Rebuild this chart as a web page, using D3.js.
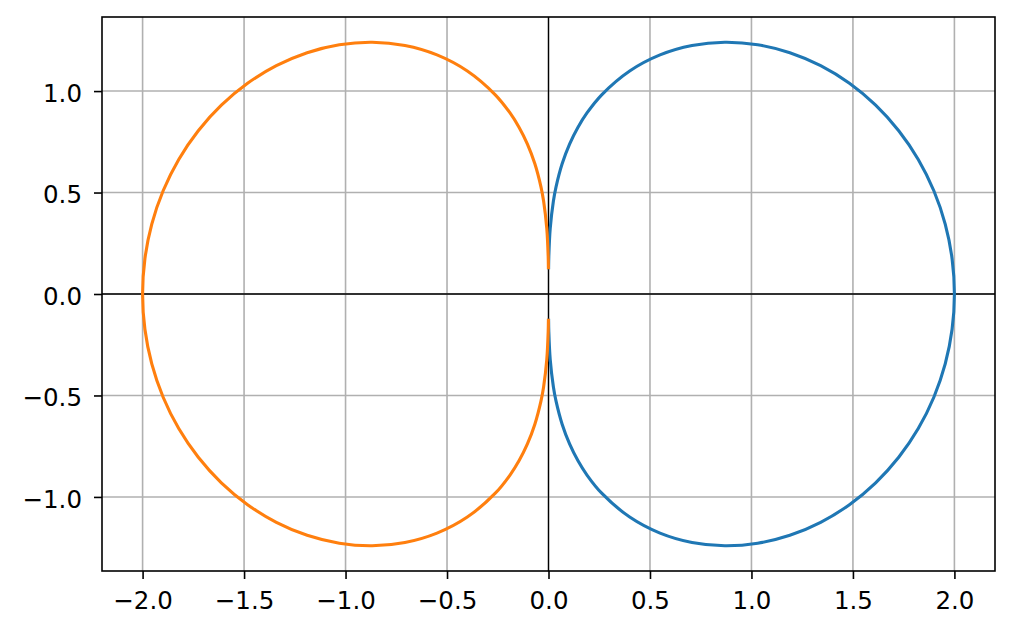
<!DOCTYPE html>
<html>
  <head>
    <meta charset="utf-8">
    <title>Polar curves</title>
    <script src="https://cdn.jsdelivr.net/npm/d3@7"></script>
    <style>
      body { margin: 0; background: #fff; }
      svg { font-family: "DejaVu Sans", sans-serif; }
      .grid line { stroke: #b0b0b0; stroke-width: 1.6px; }
    </style>
  </head>
  <body>
    <svg width="1014" height="636"></svg>
    <script>

    // points, upper half from the cusp round to (2, 0)
    const blueX = [0.0005, 0.0016, 0.0085, 0.0240, 0.0369, 0.0676, 0.1039, 0.1447, 0.1896, 0.2633, 0.4000, 0.5495, 0.7071, 0.8688, 1.0307, 1.1892, 1.3410, 1.4828, 1.6119, 1.7256, 1.8219, 1.8987, 1.9547, 1.9886, 2.0,
                   1.9886, 1.9547, 1.8987, 1.8219, 1.7256, 1.6119, 1.4828, 1.3410, 1.1892, 1.0307, 0.8688, 0.7071, 0.5495, 0.4000, 0.2633, 0.1896, 0.1447, 0.1039, 0.0676, 0.0369, 0.0240, 0.0085, 0.0016, 0.0005];
    const blueY = [0.1296, 0.1868, 0.3235, 0.4570, 0.5270, 0.6431, 0.7389, 0.8207, 0.8921, 0.9828, 1.0991, 1.1784, 1.2247, 1.2408, 1.2283, 1.1892, 1.1252, 1.0383, 0.9306, 0.8047, 0.6631, 0.5087, 0.3447, 0.1740, 0,
                   -0.1740, -0.3447, -0.5087, -0.6631, -0.8047, -0.9306, -1.0383, -1.1252, -1.1892, -1.2283, -1.2408, -1.2247, -1.1784, -1.0991, -0.9828, -0.8921, -0.8207, -0.7389, -0.6431, -0.5270, -0.4570, -0.3235, -0.1868, -0.1296];

    const orangeX = [-0.0005, -0.0016, -0.0085, -0.0240, -0.0369, -0.0676, -0.1039, -0.1447, -0.1896, -0.2633, -0.4000, -0.5495, -0.7071, -0.8688, -1.0307, -1.1892, -1.3410, -1.4828, -1.6119, -1.7256, -1.8219, -1.8987, -1.9547, -1.9886, -2.0,
                     -1.9886, -1.9547, -1.8987, -1.8219, -1.7256, -1.6119, -1.4828, -1.3410, -1.1892, -1.0307, -0.8688, -0.7071, -0.5495, -0.4000, -0.2633, -0.1896, -0.1447, -0.1039, -0.0676, -0.0369, -0.0240, -0.0085, -0.0016, -0.0005];
    const orangeY = [-0.1296, -0.1868, -0.3235, -0.4570, -0.5270, -0.6431, -0.7389, -0.8207, -0.8921, -0.9828, -1.0991, -1.1784, -1.2247, -1.2408, -1.2283, -1.1892, -1.1252, -1.0383, -0.9306, -0.8047, -0.6631, -0.5087, -0.3447, -0.1740, 0,
                     0.1740, 0.3447, 0.5087, 0.6631, 0.8047, 0.9306, 1.0383, 1.1252, 1.1892, 1.2283, 1.2408, 1.2247, 1.1784, 1.0991, 0.9828, 0.8921, 0.8207, 0.7389, 0.6431, 0.5270, 0.4570, 0.3235, 0.1868, 0.1296];

    const xTicks = [-2.0, -1.5, -1.0, -0.5, 0.0, 0.5, 1.0, 1.5, 2.0];
    const yTicks = [-1.0, -0.5, 0.0, 0.5, 1.0];

    (function () {
    const svg = d3.select('svg');
    const left = 102, right = 995, top = 17, bottom = 571;

    const x = d3.scaleLinear().domain([-2.2, 2.2]).range([left, right]);
    const y = d3.scaleLinear().domain([-1.365, 1.365]).range([bottom, top]);

    const fmt = d => d3.format('.1f')(d).replace('-', '\u2212');

    // grid
    const grid = svg.append('g').attr('class', 'grid');
    grid.selectAll('.gx').data(xTicks).enter().append('line')
      .attr('x1', d => x(d)).attr('x2', d => x(d))
      .attr('y1', top).attr('y2', bottom);
    grid.selectAll('.gy').data(yTicks).enter().append('line')
      .attr('x1', left).attr('x2', right)
      .attr('y1', d => y(d)).attr('y2', d => y(d));

    // axhline / axvline at zero
    svg.append('line').attr('x1', left).attr('x2', right)
      .attr('y1', y(0)).attr('y2', y(0))
      .attr('stroke', '#000').attr('stroke-width', 1.3);
    svg.append('line').attr('x1', x(0)).attr('x2', x(0))
      .attr('y1', top).attr('y2', bottom)
      .attr('stroke', '#000').attr('stroke-width', 1.3);

    const line = d3.line()
      .x(d => x(d[0])).y(d => y(d[1]))
      .curve(d3.curveCatmullRom.alpha(0.5));

    const series = [
      {xs: blueX, ys: blueY, color: '#1f77b4'},
      {xs: orangeX, ys: orangeY, color: '#ff7f0e'}
    ];
    series.forEach(s => {
      svg.append('path')
        .datum(d3.zip(s.xs, s.ys))
        .attr('fill', 'none')
        .attr('stroke', s.color)
        .attr('stroke-width', 3.1)
        .attr('stroke-linecap', 'square')
        .attr('d', line);
    });

    // frame
    svg.append('rect')
      .attr('x', left).attr('y', top)
      .attr('width', right - left).attr('height', bottom - top)
      .attr('fill', 'none').attr('stroke', '#000').attr('stroke-width', 1.6);

    // axes
    const xAxis = d3.axisBottom(x).tickValues(xTicks).tickFormat(fmt)
      .tickSizeInner(8).tickSizeOuter(0).tickPadding(13);
    const yAxis = d3.axisLeft(y).tickValues(yTicks).tickFormat(fmt)
      .tickSizeInner(8).tickSizeOuter(0).tickPadding(12);

    const gx = svg.append('g').attr('transform', `translate(0,${bottom})`).call(xAxis);
    const gy = svg.append('g').attr('transform', `translate(${left},0)`).call(yAxis);
    [gx, gy].forEach(g => {
      g.select('.domain').remove();
      g.selectAll('.tick line').attr('stroke', '#000').attr('stroke-width', 1.6);
      g.selectAll('.tick text')
        .attr('fill', '#000')
        .style('font-family', '"DejaVu Sans", sans-serif')
        .style('font-size', '24.5px');
    });
    gy.selectAll('.tick text').attr('dy', '0.42em');
    })();

    </script>
  </body>
</html>
